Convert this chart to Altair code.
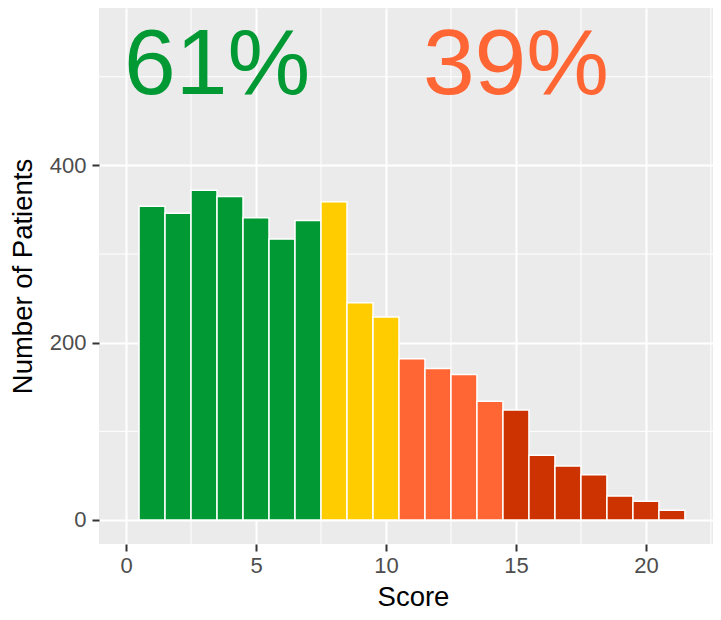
import altair as alt
import pandas as pd

# Data
scores = list(range(1, 22))
counts = [354, 346, 372, 365, 341, 317, 338, 359, 245, 229, 182,
          171, 164, 134, 124, 73, 61, 51, 27, 21, 11]
groups = ["g"] * 7 + ["y"] * 3 + ["o"] * 4 + ["r"] * 7
group_domain = ["g", "y", "o", "r"]
group_colors = ["#009933", "#FFCC00", "#FF6633", "#CC3300"]

label_text = ["61%", "39%"]
label_x = [3.5, 15.0]
label_y = [481, 481]
label_colors = ["#009933", "#FF6633"]

x_major = [0, 5, 10, 15, 20]
x_minor = [2.5, 7.5, 12.5, 17.5, 22.5]
y_major = [0, 200, 400]
y_minor = [100, 300, 500]

bars_df = pd.DataFrame({"score": scores, "count": counts, "group": groups})
labels_df = pd.DataFrame({"text": label_text, "x": label_x, "y": label_y, "color": label_colors})
xminor_df = pd.DataFrame({"x": x_minor})
yminor_df = pd.DataFrame({"y": y_minor})

xscale = alt.Scale(domain=[-1.04, 22.58], nice=False, zero=False)
yscale = alt.Scale(domain=[-27.1, 577.6], nice=False, zero=False)
xaxis = alt.Axis(values=x_major, title="Score", grid=True, titleX=314)
yaxis = alt.Axis(values=y_major, title="Number of Patients", grid=True)

xminor = alt.Chart(xminor_df).mark_rule(color="white", strokeWidth=1).encode(
    x=alt.X("x:Q", scale=xscale, axis=xaxis)
)
yminor = alt.Chart(yminor_df).mark_rule(color="white", strokeWidth=1).encode(
    y=alt.Y("y:Q", scale=yscale, axis=yaxis)
)

bars = alt.Chart(bars_df).transform_calculate(
    left="datum.score - 0.5", right="datum.score + 0.5"
).mark_rect(stroke="white", strokeWidth=1.5).encode(
    x=alt.X("left:Q", scale=xscale, axis=xaxis),
    x2="right:Q",
    y=alt.Y("count:Q", scale=yscale, axis=yaxis),
    y2=alt.datum(0),
    color=alt.Color("group:N", scale=alt.Scale(domain=group_domain, range=group_colors), legend=None),
)

texts = alt.Chart(labels_df).mark_text(
    fontSize=93, font="Liberation Sans", baseline="alphabetic", align="center"
).encode(
    x=alt.X("x:Q", scale=xscale, axis=xaxis),
    y=alt.Y("y:Q", scale=yscale, axis=yaxis),
    text="text:N",
    color=alt.Color("color:N", scale=None),
)

chart = alt.layer(xminor, yminor, bars, texts).properties(
    width=614,
    height=536,
    autosize=alt.AutoSizeParams(type="none"),
    padding={"left": 91, "top": 0, "right": 0, "bottom": 68},
).configure_view(
    fill="#EBEBEB", stroke=None
).configure_axis(
    gridColor="white",
    gridWidth=2,
    domain=False,
    tickColor="#333333",
    tickWidth=2,
    tickSize=7,
    labelColor="#4D4D4D",
    labelFont="Liberation Sans",
    labelFontSize=22,
    titleFont="Liberation Sans",
    titleFontSize=27.5,
    titleFontWeight="normal",
    titleColor="black",
    labelPadding=4,
).configure_axisY(
    titlePadding=12,
    labelPadding=6,
).configure_axisX(
    titlePadding=7,
)

chart.save("out.html", embed_options={"renderer": "svg", "actions": False})
